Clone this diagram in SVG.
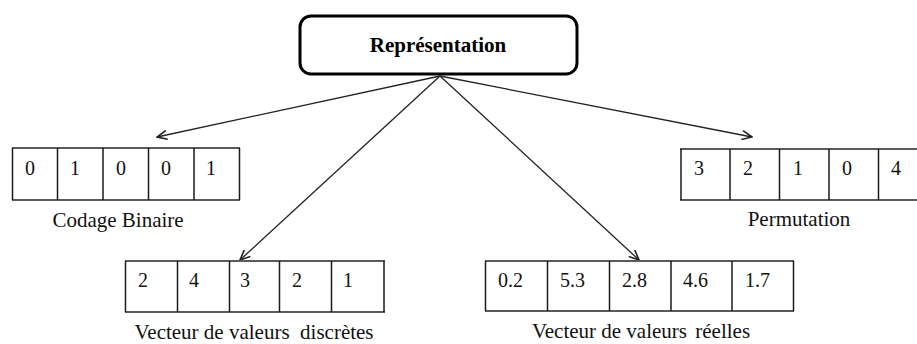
<svg xmlns="http://www.w3.org/2000/svg" width="917" height="344" viewBox="0 0 917 344">
  <style>
    .bg { fill: #ffffff; }
    .root { fill: #ffffff; stroke: #000000; stroke-width: 3; }
    .title { font-family: "Liberation Serif", "DejaVu Serif", serif; font-size: 21px; font-weight: bold; fill: #000000; text-anchor: middle; }
    .hline { stroke: #5a5a5a; stroke-width: 2; }
    .vline { stroke: #1a1a1a; stroke-width: 1.5; }
    .val { font-family: "Liberation Serif", "DejaVu Serif", serif; font-size: 20px; fill: #111111; }
    .label { font-family: "Liberation Serif", "DejaVu Serif", serif; font-size: 21px; fill: #111111; text-anchor: middle; white-space: pre; }
    .edge { stroke: #222222; stroke-width: 1.3; fill: none; marker-end: url(#open-arrow); }
  </style>
  <defs>
    <marker id="open-arrow" viewBox="0 0 12 10" refX="11" refY="5" markerWidth="12" markerHeight="10" markerUnits="userSpaceOnUse" orient="auto">
      <path d="M1,0.5 L11,5 L1,9.5" fill="none" stroke="#222222" stroke-width="1.6"/>
    </marker>
  </defs>

  <rect class="bg" x="0" y="0" width="917" height="344"/>

  <!-- Root node -->
  <g id="representation">
    <rect class="root" x="300" y="16" width="277" height="58" rx="11" ry="11"/>
    <text class="title" x="438" y="52">Représentation</text>
  </g>

  <!-- Connectors -->
  <g id="connectors">
    <line class="edge" x1="440" y1="76" x2="157" y2="137"/>
    <line class="edge" x1="440" y1="76" x2="752" y2="137"/>
    <line class="edge" x1="440" y1="76" x2="240" y2="260"/>
    <line class="edge" x1="440" y1="76" x2="639" y2="260"/>
  </g>

  <!-- Binary encoding -->
  <g id="codage-binaire">
    <line class="hline" x1="12" y1="148" x2="240" y2="148"/>
    <line class="hline" x1="12" y1="200" x2="240" y2="200"/>
    <line class="vline" x1="12.5" y1="148" x2="12.5" y2="200"/>
    <line class="vline" x1="57.5" y1="148" x2="57.5" y2="200"/>
    <line class="vline" x1="103" y1="148" x2="103" y2="200"/>
    <line class="vline" x1="148.5" y1="148" x2="148.5" y2="200"/>
    <line class="vline" x1="194" y1="148" x2="194" y2="200"/>
    <line class="vline" x1="239.5" y1="148" x2="239.5" y2="200"/>
    <text class="val" x="25" y="175">0</text>
    <text class="val" x="70" y="175">1</text>
    <text class="val" x="116" y="175">0</text>
    <text class="val" x="161" y="175">0</text>
    <text class="val" x="206" y="175">1</text>
    <text class="label" x="118" y="227">Codage Binaire</text>
  </g>

  <!-- Permutation -->
  <g id="permutation">
    <line class="hline" x1="680" y1="149" x2="917" y2="149"/>
    <line class="hline" x1="680" y1="200" x2="917" y2="200"/>
    <line class="vline" x1="681" y1="149" x2="681" y2="200"/>
    <line class="vline" x1="730" y1="149" x2="730" y2="200"/>
    <line class="vline" x1="779.5" y1="149" x2="779.5" y2="200"/>
    <line class="vline" x1="829" y1="149" x2="829" y2="200"/>
    <line class="vline" x1="878.5" y1="149" x2="878.5" y2="200"/>
    <text class="val" x="694" y="175">3</text>
    <text class="val" x="743" y="175">2</text>
    <text class="val" x="793" y="175">1</text>
    <text class="val" x="842" y="175">0</text>
    <text class="val" x="891" y="175">4</text>
    <text class="label" x="799" y="226">Permutation</text>
  </g>

  <!-- Discrete-valued vector -->
  <g id="vecteur-discret">
    <line class="hline" x1="125" y1="261" x2="385" y2="261"/>
    <line class="hline" x1="125" y1="312" x2="385" y2="312"/>
    <line class="vline" x1="125.5" y1="261" x2="125.5" y2="312"/>
    <line class="vline" x1="177.5" y1="261" x2="177.5" y2="312"/>
    <line class="vline" x1="229.5" y1="261" x2="229.5" y2="312"/>
    <line class="vline" x1="279.5" y1="261" x2="279.5" y2="312"/>
    <line class="vline" x1="331.5" y1="261" x2="331.5" y2="312"/>
    <line class="vline" x1="384" y1="261" x2="384" y2="312"/>
    <text class="val" x="138" y="287">2</text>
    <text class="val" x="189" y="287">4</text>
    <text class="val" x="240" y="287">3</text>
    <text class="val" x="292" y="287">2</text>
    <text class="val" x="343" y="287">1</text>
    <text class="label" x="254" y="338.5">Vecteur de valeurs  discrètes</text>
  </g>

  <!-- Real-valued vector -->
  <g id="vecteur-reel">
    <line class="hline" x1="485" y1="261" x2="794" y2="261"/>
    <line class="hline" x1="485" y1="311" x2="794" y2="311"/>
    <line class="vline" x1="485.5" y1="261" x2="485.5" y2="311"/>
    <line class="vline" x1="547.5" y1="261" x2="547.5" y2="311"/>
    <line class="vline" x1="609.5" y1="261" x2="609.5" y2="311"/>
    <line class="vline" x1="671" y1="261" x2="671" y2="311"/>
    <line class="vline" x1="732" y1="261" x2="732" y2="311"/>
    <line class="vline" x1="793.5" y1="261" x2="793.5" y2="311"/>
    <text class="val" x="498" y="287">0.2</text>
    <text class="val" x="560" y="287">5.3</text>
    <text class="val" x="622" y="287">2.8</text>
    <text class="val" x="683" y="287">4.6</text>
    <text class="val" x="745" y="287">1.7</text>
    <text class="label" x="641" y="338">Vecteur de valeurs <tspan dx="3">réelles</tspan></text>
  </g>
</svg>
